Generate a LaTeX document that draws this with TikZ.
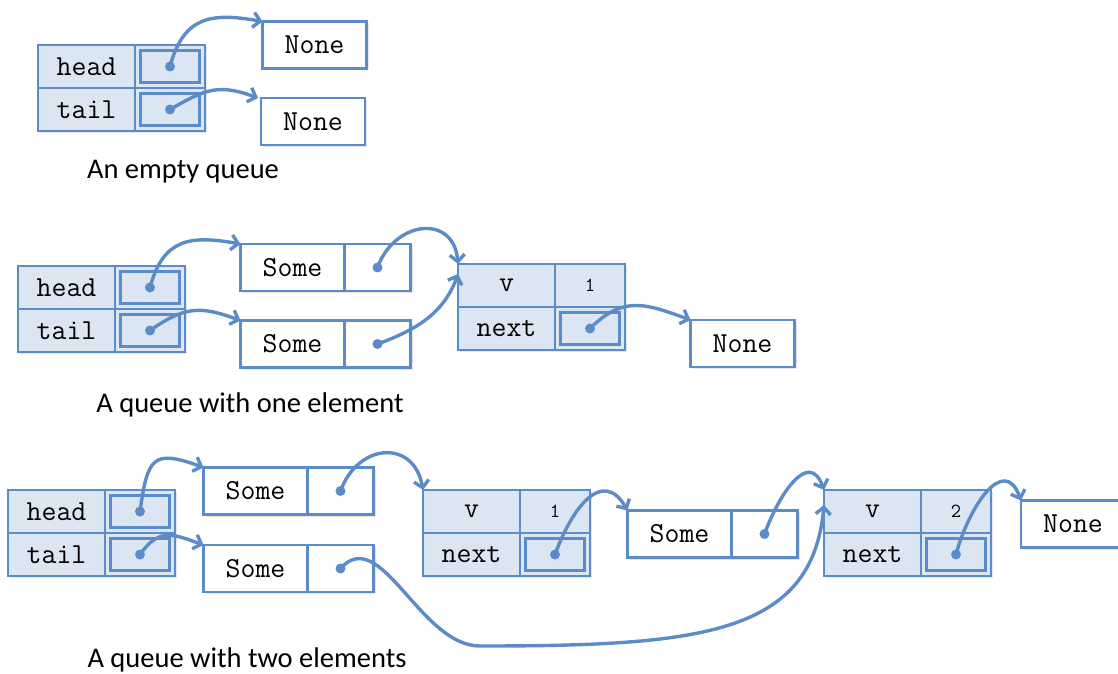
\documentclass[tikz,border=0pt]{standalone}
\usepackage{fontspec}
\setmainfont{Carlito}
\usetikzlibrary{positioning,arrows.meta,shadows}
\definecolor{qblue}{HTML}{5B8CC8}
\definecolor{qfill}{HTML}{DCE6F2}
\newcommand\monotext{\ttfamily\fontsize{29}{32}\selectfont}
\newcommand\valtext{\ttfamily\fontsize{20}{23}\selectfont}

\begin{document}
\begin{tikzpicture}[x=1pt,y=1pt,
  cell/.style={draw=qblue,line width=2.2pt,outer sep=0pt,inner sep=0pt,minimum height=43pt,font=\monotext,
    drop shadow={shadow xshift=2pt,shadow yshift=-2pt,opacity=.2}},
  lbl/.style={cell,fill=qfill,minimum width=97pt},
  val/.style={cell,fill=qfill,minimum width=70pt,font=\valtext},
  ptr/.style={cell,fill=qfill,minimum width=70pt,path picture={
      \draw[qblue,line width=2.6pt] ([shift={(5.5pt,5.5pt)}]path picture bounding box.south west) rectangle ([shift={(-5.5pt,-5.5pt)}]path picture bounding box.north east);
      \fill[qblue] (path picture bounding box.center) circle (5pt);}},
  somel/.style={cell,fill=white,minimum width=104pt,minimum height=47pt},
  somer/.style={cell,fill=white,minimum width=66pt,minimum height=47pt,path picture={
      \fill[qblue] (path picture bounding box.center) circle (5pt);}},
  none/.style={cell,fill=white,minimum width=104pt,minimum height=47pt},
  caption/.style={font=\fontsize{28.5}{32}\selectfont},
  arr/.style={qblue,line width=3.4pt,-{Straight Barb[length=7pt,width=15pt]}}
]
\useasboundingbox (0,0) rectangle (1118,673);

% An empty queue
\node[lbl] (hd1) at (86.5,606.5) {head};
\node[lbl,below=0pt of hd1] (tl1) {tail};
\node[ptr,right=0pt of hd1] (hp1) {};
\node[ptr,right=0pt of tl1] (tp1) {};
\node[none] (nn1a) at (314.5,628) {None};
\node[none] (nn1b) at (313,551.5) {None};
\node[caption] (c1) at (183,501) {An empty queue};

\draw[arr] (hp1.center) to[out=75,in=170,looseness=1.3] (nn1a.north west);
\draw[arr] (tp1.center) to[out=30,in=160,looseness=1.2] ([xshift=-3pt]nn1b.north west);

% A queue with one element
\node[lbl] (hd2) at (66.5,385.5) {head};
\node[lbl,below=0pt of hd2] (tl2) {tail};
\node[ptr,right=0pt of hd2] (hp2) {};
\node[ptr,right=0pt of tl2] (tp2) {};
\node[somel] (sl2a) at (292.5,405.5) {Some};
\node[somer,right=0pt of sl2a] (sr2a) {};
\node[somel] (sl2b) at (292.5,329) {Some};
\node[somer,right=0pt of sl2b] (sr2b) {};
\node[lbl] (nv2) at (506.5,387.5) {v};
\node[val,right=0pt of nv2] (vv2) {1};
\node[lbl,below=0pt of nv2] (nx2) {next};
\node[ptr,right=0pt of nx2] (np2) {};
\node[none] (nn2) at (742.5,329.5) {None};
\node[caption] (c2) at (250,268) {A queue with one element};

\draw[arr] (hp2.center) to[out=75,in=170,looseness=1.3] (sl2a.north west);
\draw[arr] (tp2.center) to[out=35,in=160,looseness=1.2] (sl2b.north west);
\draw[arr] (sr2a.center) to[out=70,in=95,looseness=1.6] (nv2.north west);
\draw[arr] (sr2b.center) to[out=20,in=250] ([yshift=-10pt]nv2.north west);
\draw[arr] (np2.center) to[out=45,in=160,looseness=1.2] (nn2.north west);

% A queue with two elements
\node[lbl] (hd3) at (56.5,161.5) {head};
\node[lbl,below=0pt of hd3] (tl3) {tail};
\node[ptr,right=0pt of hd3] (hp3) {};
\node[ptr,right=0pt of tl3] (tp3) {};
\node[somel] (sl3a) at (255.5,182) {Some};
\node[somer,right=0pt of sl3a] (sr3a) {};
\node[somel] (sl3b) at (255.5,104.5) {Some};
\node[somer,right=0pt of sl3b] (sr3b) {};
\node[lbl] (nv3a) at (471.5,161.5) {v};
\node[val,right=0pt of nv3a] (vv3a) {1};
\node[lbl,below=0pt of nv3a] (nx3a) {next};
\node[ptr,right=0pt of nx3a] (np3a) {};
\node[somel] (sl3c) at (679.5,139) {Some};
\node[somer,right=0pt of sl3c] (sr3c) {};
\node[lbl] (nv3b) at (872.5,161.5) {v};
\node[val,right=0pt of nv3b] (vv3b) {2};
\node[lbl,below=0pt of nv3b] (nx3b) {next};
\node[ptr,right=0pt of nx3b] (np3b) {};
\node[none] (nn3) at (1073,149) {None};
\node[caption] (c3) at (247,13) {A queue with two elements};
\coordinate (dip) at (480,27);

\draw[arr] (hp3.center) to[out=82,in=160,looseness=1.8] (sl3a.north west);
\draw[arr] (tp3.center) to[out=55,in=160,looseness=1.3] (sl3b.north west);
\draw[arr] (sr3a.center) to[out=70,in=100,looseness=1.6] (nv3a.north west);
\draw[arr] (np3a.center) to[out=70,in=120,looseness=1.5] (sl3c.north west);
\draw[arr] (sr3c.center) to[out=70,in=110,looseness=1.5] (nv3b.north west);
\draw[arr] (sr3b.center) .. controls +(40,45) and +(-60,0) .. (dip)
  .. controls +(220,0) and +(-12,-130) .. ([yshift=-15pt]nv3b.north west);
\draw[arr] (np3b.center) to[out=75,in=110,looseness=1.5] (nn3.north west);
\end{tikzpicture}
\end{document}
